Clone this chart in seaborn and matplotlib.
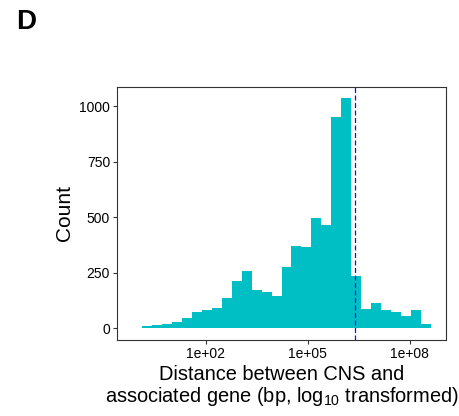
import numpy as np
import matplotlib
matplotlib.use('Agg')
import matplotlib.pyplot as plt
from matplotlib.ticker import FuncFormatter
import seaborn as sns
import pandas as pd

# Histogram of log10 distances, 30 bins (counts)
bin_lo = -0.17
bin_hi = 8.63
counts = [3, 9, 16, 21, 27, 46, 72, 81, 90, 138,
          214, 258, 175, 166, 148, 277, 369, 366, 499, 465,
          952, 1035, 238, 87, 114, 82, 72, 57, 81, 22]
cutoff = 6.39          # dashed line, log10 bp
x_ticks = [2, 5, 8]

sns.set_style('white')
plt.rcParams['font.family'] = ['Liberation Sans', 'DejaVu Sans']
plt.rcParams['mathtext.fontset'] = 'custom'
plt.rcParams['mathtext.rm'] = 'Liberation Sans'
plt.rcParams['text.color'] = 'black'
plt.rcParams['axes.labelcolor'] = 'black'

edges = np.linspace(bin_lo, bin_hi, len(counts) + 1)
df = pd.DataFrame({'logdist': (edges[:-1] + edges[1:]) / 2, 'n': counts})

fig = plt.figure(figsize=(4.59, 4.16), dpi=100)
ax = fig.add_axes([0.2549, 0.1827, 0.7168, 0.6082])

sns.histplot(data=df, x='logdist', weights='n', bins=len(counts),
             binrange=(bin_lo, bin_hi), ax=ax,
             color='#00BFC4', alpha=1, edgecolor='none', linewidth=0)
ax.axvline(cutoff, color='#1010EE', linestyle=(0, (4, 2)), linewidth=0.9)

span = bin_hi - bin_lo
ax.set_xlim(bin_lo - 0.05 * span, bin_hi + 0.05 * span)
ax.set_ylim(-0.05 * max(counts), max(counts) * 1.05)
ax.set_xticks(x_ticks)
ax.xaxis.set_major_formatter(FuncFormatter(lambda v, p: f'1e+{int(v):02d}'))
ax.set_yticks([0, 250, 500, 750, 1000])

for s in ax.spines.values():
    s.set_visible(True)
    s.set_color('#333333')
    s.set_linewidth(0.8)
ax.tick_params(axis='both', direction='out', length=3, width=0.8,
               bottom=True, left=True,
               color='#333333', labelsize=10, labelcolor='black', pad=2)

ax.set_ylabel('Count', fontsize=15)
ax.set_xlabel('Distance between CNS and\nassociated gene (bp, log$_{10}$ transformed)',
              fontsize=14.4, linespacing=1.05, labelpad=3)

fig.text(0.035, 0.93, 'D', fontsize=20, fontweight='bold', color='black')

fig.savefig('out.png', dpi=100)
